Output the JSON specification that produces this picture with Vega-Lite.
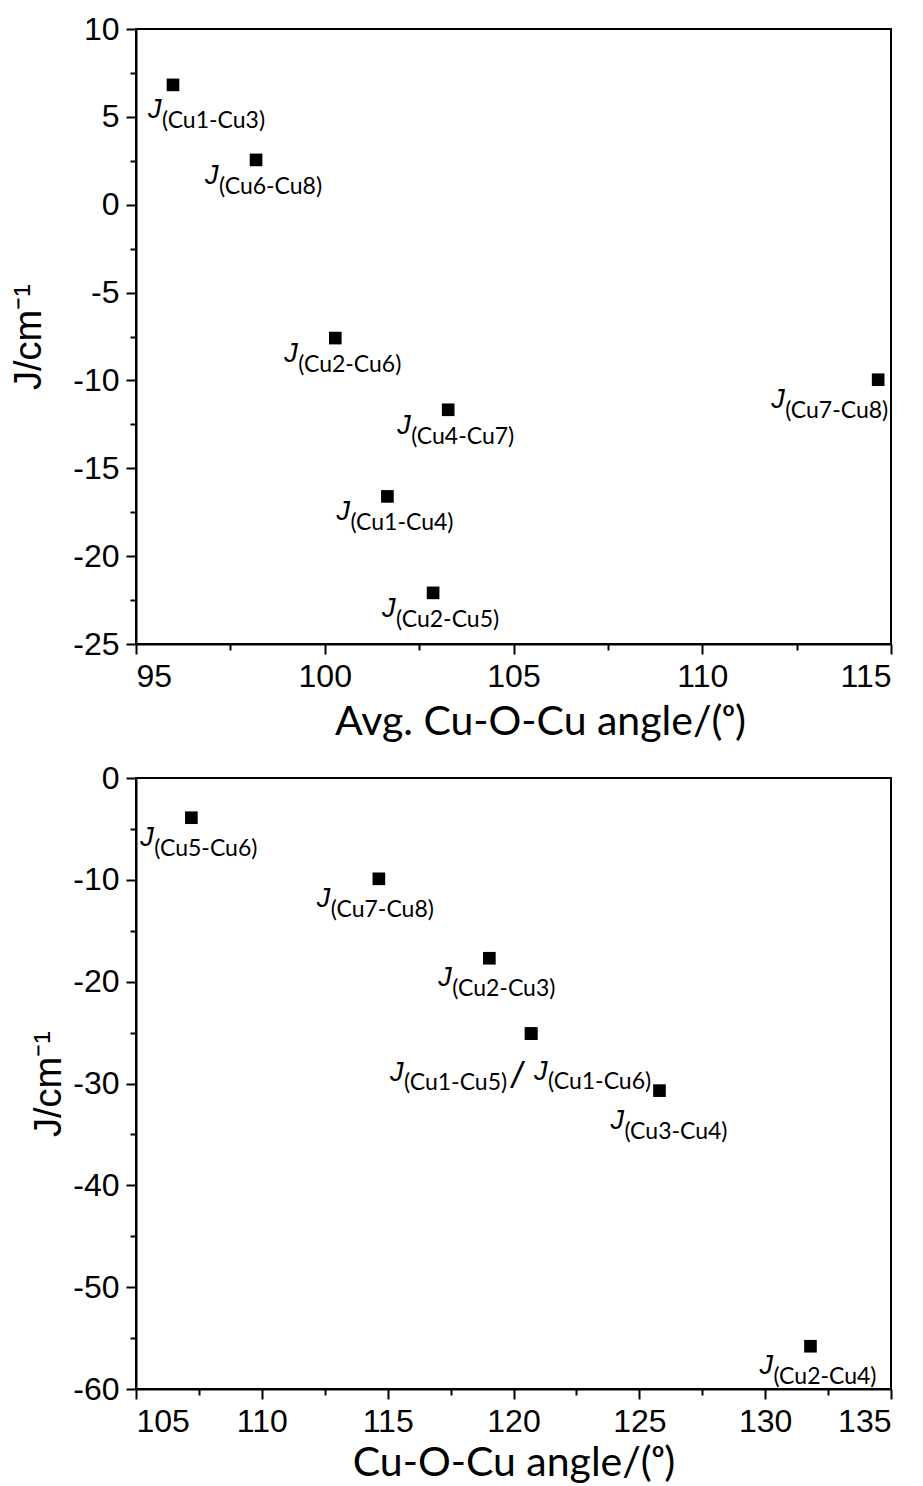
{
  "$schema": "https://vega.github.io/schema/vega-lite/v6.json",
  "background": "white",
  "padding": {"left": 9, "top": 12, "right": 5, "bottom": 0},
  "spacing": 18,
  "config": {
    "view": {"stroke": "black", "strokeWidth": 2},
    "axis": {
      "grid": false,
      "domainColor": "black",
      "domainWidth": 2,
      "tickColor": "black",
      "tickWidth": 2,
      "labelColor": "black",
      "titleColor": "black",
      "labelFont": "Liberation Sans",
      "labelFontSize": 32,
      "labelFontWeight": "normal",
      "titleFontWeight": "normal",
      "labelPadding": 7
    },
    "text": {"color": "black"}
  },
  "vconcat": [
    {
      "width": 755,
      "height": 615,
      "data": {
        "values": [
          {"pair": "(Cu1-Cu3)", "angle": 95.98, "J": 6.82},
          {"pair": "(Cu6-Cu8)", "angle": 98.18, "J": 2.55},
          {"pair": "(Cu2-Cu6)", "angle": 100.28, "J": -7.59},
          {"pair": "(Cu4-Cu7)", "angle": 103.27, "J": -11.67},
          {"pair": "(Cu1-Cu4)", "angle": 101.66, "J": -16.6},
          {"pair": "(Cu2-Cu5)", "angle": 102.87, "J": -22.09},
          {"pair": "(Cu7-Cu8)", "angle": 114.66, "J": -9.96}
        ]
      },
      "encoding": {
        "x": {
          "field": "angle", "type": "quantitative",
          "scale": {"domain": [95, 115], "nice": false, "zero": false},
          "axis": {
            "title": "Avg. Cu-O-Cu angle/(ᵒ)",
            "titleFont": "Lato", "titleFontSize": 41, "titlePadding": 10, "titleX": 404,
            "labelFontSize": 32,
            "values": [95, 97.5, 100, 102.5, 105, 107.5, 110, 112.5, 115],
            "labelExpr": "datum.value % 5 === 0 ? replace(datum.label, '−', '-') : ''",
            "tickSize": {"condition": {"test": "datum.value % 5 === 0", "value": 10}, "value": 6}
          }
        },
        "y": {
          "field": "J", "type": "quantitative",
          "scale": {"domain": [-25, 10], "nice": false, "zero": false},
          "axis": {
            "title": "J/cm⁻¹",
            "titleFont": "Liberation Sans", "titleFontSize": 38, "titlePadding": 24,
            "labelFontSize": 32,
            "values": [-25, -22.5, -20, -17.5, -15, -12.5, -10, -7.5, -5, -2.5, 0, 2.5, 5, 7.5, 10],
            "labelExpr": "datum.value % 5 === 0 ? replace(datum.label, '−', '-') : ''",
            "tickSize": {"condition": {"test": "datum.value % 5 === 0", "value": 10}, "value": 6}
          }
        }
      },
      "layer": [
        {"mark": {"type": "square", "size": 160, "color": "black", "opacity": 1}},
        {
          "transform": [{"filter": "indexof(['(Cu1-Cu3)','(Cu7-Cu8)'], datum.pair) < 0"}],
          "mark": {"type": "text", "text": "J", "font": "Liberation Sans", "fontStyle": "italic", "fontSize": 27, "align": "left", "baseline": "alphabetic", "dx": -51, "dy": 24}
        },
        {
          "transform": [{"filter": "indexof(['(Cu1-Cu3)','(Cu7-Cu8)'], datum.pair) < 0"}],
          "mark": {"type": "text", "font": "Lato", "fontSize": 23, "align": "left", "baseline": "alphabetic", "dx": -37, "dy": 34},
          "encoding": {"text": {"field": "pair"}}
        },
        {
          "transform": [{"filter": "datum.pair === '(Cu1-Cu3)'"}],
          "mark": {"type": "text", "text": "J", "font": "Liberation Sans", "fontStyle": "italic", "fontSize": 27, "align": "left", "baseline": "alphabetic", "dx": -25, "dy": 33}
        },
        {
          "transform": [{"filter": "datum.pair === '(Cu1-Cu3)'"}],
          "mark": {"type": "text", "font": "Lato", "fontSize": 23, "align": "left", "baseline": "alphabetic", "dx": -11, "dy": 43},
          "encoding": {"text": {"field": "pair"}}
        },
        {
          "transform": [{"filter": "datum.pair === '(Cu7-Cu8)'"}],
          "mark": {"type": "text", "text": "J", "font": "Liberation Sans", "fontStyle": "italic", "fontSize": 27, "align": "left", "baseline": "alphabetic", "dx": -107, "dy": 28}
        },
        {
          "transform": [{"filter": "datum.pair === '(Cu7-Cu8)'"}],
          "mark": {"type": "text", "font": "Lato", "fontSize": 23, "align": "left", "baseline": "alphabetic", "dx": -93, "dy": 38},
          "encoding": {"text": {"field": "pair"}}
        }
      ]
    },
    {
      "width": 755,
      "height": 611,
      "data": {
        "values": [
          {"pair": "(Cu5-Cu6)", "angle": 107.2, "J": -3.9},
          {"pair": "(Cu7-Cu8)", "angle": 114.65, "J": -9.9},
          {"pair": "(Cu2-Cu3)", "angle": 119.04, "J": -17.7},
          {"pair": "(Cu1-Cu5)", "angle": 120.7, "J": -25.1},
          {"pair": "(Cu1-Cu6)", "angle": 120.7, "J": -25.1},
          {"pair": "(Cu3-Cu4)", "angle": 125.8, "J": -30.7},
          {"pair": "(Cu2-Cu4)", "angle": 131.8, "J": -55.8}
        ]
      },
      "encoding": {
        "x": {
          "field": "angle", "type": "quantitative",
          "scale": {"domain": [105, 135], "nice": false, "zero": false},
          "axis": {
            "title": "Cu-O-Cu angle/(ᵒ)",
            "titleFont": "Lato", "titleFontSize": 41, "titlePadding": 6,
            "labelFontSize": 32,
            "values": [105, 107.5, 110, 112.5, 115, 117.5, 120, 122.5, 125, 127.5, 130, 132.5, 135],
            "labelExpr": "datum.value % 5 === 0 ? replace(datum.label, '−', '-') : ''",
            "tickSize": {"condition": {"test": "datum.value % 5 === 0", "value": 10}, "value": 6}
          }
        },
        "y": {
          "field": "J", "type": "quantitative",
          "scale": {"domain": [-60, 0], "nice": false, "zero": false},
          "axis": {
            "title": "J/cm⁻¹",
            "titleFont": "Liberation Sans", "titleFontSize": 38, "titlePadding": 4,
            "labelFontSize": 32,
            "values": [-60, -55, -50, -45, -40, -35, -30, -25, -20, -15, -10, -5, 0],
            "labelExpr": "datum.value % 10 === 0 ? replace(datum.label, '−', '-') : ''",
            "tickSize": {"condition": {"test": "datum.value % 10 === 0", "value": 10}, "value": 6}
          }
        }
      },
      "layer": [
        {"mark": {"type": "square", "size": 160, "color": "black", "opacity": 1}},
        {
          "transform": [{"filter": "indexof(['(Cu5-Cu6)','(Cu2-Cu3)','(Cu2-Cu4)'], datum.pair) >= 0"}],
          "mark": {"type": "text", "text": "J", "font": "Liberation Sans", "fontStyle": "italic", "fontSize": 27, "align": "left", "baseline": "alphabetic", "dx": -51, "dy": 28}
        },
        {
          "transform": [{"filter": "indexof(['(Cu5-Cu6)','(Cu2-Cu3)','(Cu2-Cu4)'], datum.pair) >= 0"}],
          "mark": {"type": "text", "font": "Lato", "fontSize": 23, "align": "left", "baseline": "alphabetic", "dx": -37, "dy": 38},
          "encoding": {"text": {"field": "pair"}}
        },
        {
          "transform": [{"filter": "datum.pair === '(Cu7-Cu8)'"}],
          "mark": {"type": "text", "text": "J", "font": "Liberation Sans", "fontStyle": "italic", "fontSize": 27, "align": "left", "baseline": "alphabetic", "dx": -62, "dy": 28}
        },
        {
          "transform": [{"filter": "datum.pair === '(Cu7-Cu8)'"}],
          "mark": {"type": "text", "font": "Lato", "fontSize": 23, "align": "left", "baseline": "alphabetic", "dx": -48, "dy": 38},
          "encoding": {"text": {"field": "pair"}}
        },
        {
          "transform": [{"filter": "datum.pair === '(Cu3-Cu4)'"}],
          "mark": {"type": "text", "text": "J", "font": "Liberation Sans", "fontStyle": "italic", "fontSize": 27, "align": "left", "baseline": "alphabetic", "dx": -49, "dy": 38}
        },
        {
          "transform": [{"filter": "datum.pair === '(Cu3-Cu4)'"}],
          "mark": {"type": "text", "font": "Lato", "fontSize": 23, "align": "left", "baseline": "alphabetic", "dx": -35, "dy": 48},
          "encoding": {"text": {"field": "pair"}}
        },
        {
          "transform": [{"filter": "datum.pair === '(Cu1-Cu5)'"}],
          "mark": {"type": "text", "text": "J", "font": "Liberation Sans", "fontStyle": "italic", "fontSize": 27, "align": "left", "baseline": "alphabetic", "dx": -141, "dy": 47}
        },
        {
          "transform": [{"filter": "datum.pair === '(Cu1-Cu5)'"}],
          "mark": {"type": "text", "font": "Lato", "fontSize": 23, "align": "left", "baseline": "alphabetic", "dx": -127, "dy": 56},
          "encoding": {"text": {"field": "pair"}}
        },
        {
          "transform": [{"filter": "datum.pair === '(Cu1-Cu6)'"}],
          "mark": {"type": "text", "text": "/", "font": "Liberation Sans", "fontStyle": "italic", "fontSize": 36, "align": "left", "baseline": "alphabetic", "dx": -19, "dy": 54}
        },
        {
          "transform": [{"filter": "datum.pair === '(Cu1-Cu6)'"}],
          "mark": {"type": "text", "text": "J", "font": "Liberation Sans", "fontStyle": "italic", "fontSize": 27, "align": "left", "baseline": "alphabetic", "dx": 3, "dy": 46}
        },
        {
          "transform": [{"filter": "datum.pair === '(Cu1-Cu6)'"}],
          "mark": {"type": "text", "font": "Lato", "fontSize": 23, "align": "left", "baseline": "alphabetic", "dx": 17, "dy": 55},
          "encoding": {"text": {"field": "pair"}}
        }
      ]
    }
  ]
}
